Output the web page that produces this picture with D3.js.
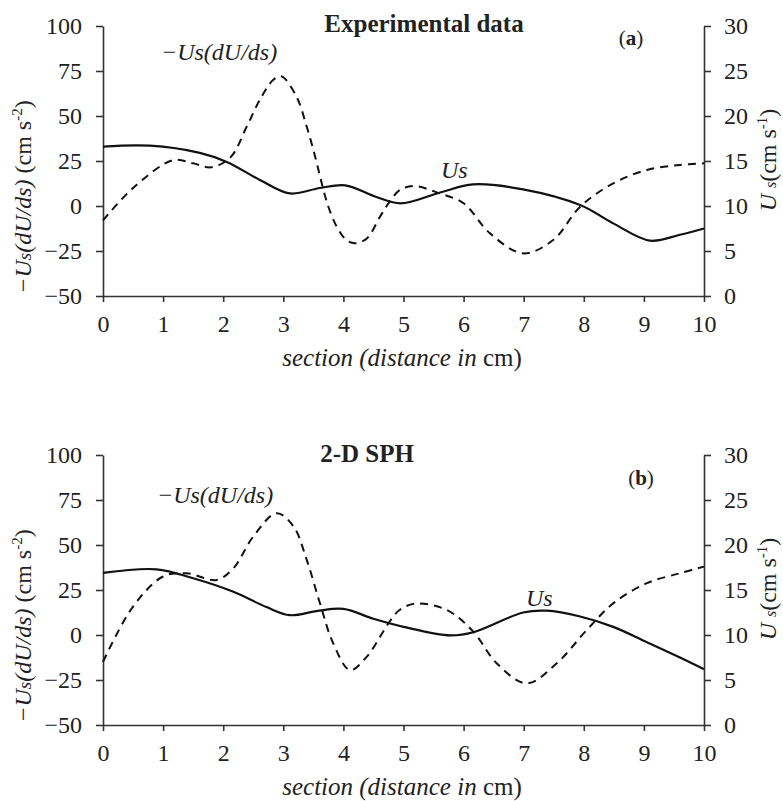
<!DOCTYPE html>
<html>
<head>
<meta charset="utf-8">
<script src="https://cdn.jsdelivr.net/npm/d3@7"></script>
<style>
  body { margin: 0; background: #fff; }
  text { font-family: "Liberation Serif", "Times New Roman", serif; fill: #222; }
</style>
</head>
<body>
<div id="chart"></div>
<script>
// ---------------------------------------------------------------
// Data
// ---------------------------------------------------------------
// (a) experimental data : -Us(dU/ds) on left axis (cm s-2)
const expGradX = [0, 0.5, 1.17, 1.5, 1.8, 2.12, 2.39, 2.61, 2.83, 2.97, 3.22, 3.39, 3.53, 3.64, 3.75, 3.89,
                  4.05, 4.19, 4.39, 4.61, 4.75, 4.94, 5.17, 5.6, 6.0, 6.44, 6.99, 7.49, 7.94, 8.49, 9.05, 9.6, 10];
const expGrad  = [-8, 10, 25.5, 23.7, 21.5, 27, 44, 59, 70, 72, 60.7, 44, 27.4, 12.6, -0.4, -11.5,
                  -18.9, -20.7, -18, -5.9, 1.5, 8.9, 11.1, 7, 1.5, -15.2, -26.3, -18.9, -0.4, 12.6, 20, 22.8, 23.7];
// (a) experimental data : Us on right axis (cm s-1)
const expUsX = [0, 0.78, 1.61, 2.06, 2.61, 3.11, 3.61, 4.03, 4.55, 4.95, 5.61, 6.16, 6.99, 7.94, 8.49, 9.1, 9.6, 10];
const expUs  = [16.6, 16.7, 15.9, 14.9, 12.9, 11.4, 12.0, 12.3, 11.0, 10.3, 11.5, 12.4, 11.85, 10.1, 8.07, 6.15, 6.8, 7.5];

// (b) 2-D SPH : -Us(dU/ds)
const sphGradX = [0, 0.5, 1.0, 1.39, 1.89, 2.17, 2.5, 2.89, 3.17, 3.39, 3.61, 3.83, 4.11, 4.39, 4.61, 4.78, 4.94,
                  5.2, 5.72, 6.16, 6.55, 7.05, 7.55, 8.05, 8.49, 9.05, 9.6, 10];
const sphGrad  = [-14.9, 15.8, 32.5, 34.3, 30.6, 37.1, 54.7, 67.7, 60.3, 41.7, 17.6, -4.6, -19.5, -12, -1, 8, 14,
                  17.5, 13.9, 1.9, -15.7, -26.9, -15.7, 2.8, 17.6, 28.8, 34.3, 38];
// (b) 2-D SPH : Us
const sphUsX = [0, 0.89, 1.5, 2.17, 2.72, 3.11, 3.55, 4.0, 4.5, 5.0, 5.78, 6.16, 6.99, 7.38, 7.94, 8.49, 9.05, 9.6, 10];
const sphUs  = [16.9, 17.3, 16.3, 14.8, 13.1, 12.2, 12.65, 12.9, 11.8, 10.9, 9.95, 10.3, 12.5, 12.7, 12.06, 10.9, 9.2, 7.5, 6.2];

// tick values
const xTicks = [0, 1, 2, 3, 4, 5, 6, 7, 8, 9, 10];
const leftTicks = [-50, -25, 0, 25, 50, 75, 100];
const rightTicks = [0, 5, 10, 15, 20, 25, 30];

// ---------------------------------------------------------------
// SVG
// ---------------------------------------------------------------
const W = 783, H = 801;
const svg = d3.select("#chart").append("svg")
  .attr("width", W)
  .attr("height", H)
  .style("background", "#fff");

const plotLeft = 103, plotRight = 704, plotH = 270;
const tickFont = "24px";

const x = d3.scaleLinear().domain([0, 10]).range([plotLeft, plotRight]);

const panels = [
  { top: 26,  title: "Experimental data", tag: "a", gx: expGradX, gy: expGrad, ux: expUsX, uy: expUs,
    titleX: 424, titleY: 6, tagX: 631, tagY: 19, gradLbl: [161, 34], usLbl: [441, 152] },
  { top: 455, title: "2-D SPH", tag: "b", gx: sphGradX, gy: sphGrad, ux: sphUsX, uy: sphUs,
    titleX: 367, titleY: 7, tagX: 641, tagY: 30, gradLbl: [157, 48], usLbl: [526, 151] }
];

panels.forEach(p => {
  const g = svg.append("g").attr("transform", `translate(0,${p.top})`);

  const yL = d3.scaleLinear().domain([-50, 100]).range([plotH, 0]);
  const yR = d3.scaleLinear().domain([0, 30]).range([plotH, 0]);

  // axes
  const xAxis = g.append("g")
    .attr("transform", `translate(0,${plotH})`)
    .call(d3.axisBottom(x).tickValues(xTicks).tickSize(6).tickPadding(13).tickSizeOuter(0));
  const lAxis = g.append("g")
    .attr("transform", `translate(${plotLeft},0)`)
    .call(d3.axisLeft(yL).tickValues(leftTicks).tickSize(7).tickPadding(14).tickSizeOuter(0));
  const rAxis = g.append("g")
    .attr("transform", `translate(${plotRight},0)`)
    .call(d3.axisRight(yR).tickValues(rightTicks).tickSize(7).tickPadding(13).tickSizeOuter(0));

  [xAxis, lAxis, rAxis].forEach(a => {
    a.select(".domain").attr("stroke", "#333").attr("stroke-width", 1.6);
    a.selectAll(".tick line").attr("stroke", "#333").attr("stroke-width", 1.6);
    a.selectAll(".tick text")
      .attr("font-size", tickFont)
      .attr("fill", "#222");
  });

  // curves
  const line = d3.line().curve(d3.curveCatmullRom.alpha(0.5));

  g.append("path")
    .datum(p.gx.map((v, i) => [x(v), yL(p.gy[i])]))
    .attr("d", line)
    .attr("fill", "none")
    .attr("stroke", "#111")
    .attr("stroke-width", 2)
    .attr("stroke-dasharray", "8,6");

  g.append("path")
    .datum(p.ux.map((v, i) => [x(v), yR(p.uy[i])]))
    .attr("d", line)
    .attr("fill", "none")
    .attr("stroke", "#111")
    .attr("stroke-width", 2.2);

  // title and panel tag
  g.append("text")
    .attr("x", p.titleX).attr("y", p.titleY)
    .attr("text-anchor", "middle")
    .attr("font-size", "25px")
    .attr("font-weight", "bold")
    .text(p.title);

  const tag = g.append("text")
    .attr("x", p.tagX).attr("y", p.tagY)
    .attr("text-anchor", "middle")
    .attr("font-size", "21px");
  tag.append("tspan").text("(");
  tag.append("tspan").attr("font-weight", "bold").text(p.tag);
  tag.append("tspan").text(")");

  // curve labels
  g.append("text")
    .attr("x", p.gradLbl[0]).attr("y", p.gradLbl[1])
    .attr("font-size", "24px")
    .attr("font-style", "italic")
    .text("\u2212Us(dU/ds)");

  g.append("text")
    .attr("x", p.usLbl[0]).attr("y", p.usLbl[1])
    .attr("font-size", "24px")
    .attr("font-style", "italic")
    .text("Us");

  // x axis title
  const xt = g.append("text")
    .attr("x", 402).attr("y", plotH + 70)
    .attr("text-anchor", "middle")
    .attr("font-size", "25px");
  xt.append("tspan").attr("font-style", "italic").text("section (distance in ");
  xt.append("tspan").text("cm)");

  // left y title
  const yl = g.append("text")
    .attr("transform", `translate(31,171) rotate(-90)`)
    .attr("text-anchor", "middle")
    .attr("font-size", "24px");
  yl.append("tspan").attr("font-style", "italic").text("\u2212U");
  yl.append("tspan").attr("font-style", "italic").attr("font-size", "19px").text("s");
  yl.append("tspan").attr("font-style", "italic").text("(dU/ds)");
  yl.append("tspan").text(" (cm s");
  yl.append("tspan").attr("font-size", "15px").attr("dy", -9).text("-2");
  yl.append("tspan").attr("dy", 9).text(")");

  // right y title
  const yr = g.append("text")
    .attr("transform", `translate(776,134) rotate(-90)`)
    .attr("text-anchor", "middle")
    .attr("font-size", "24px");
  yr.append("tspan").attr("font-style", "italic").text("U ");
  yr.append("tspan").attr("font-style", "italic").attr("font-size", "16px").text("s");
  yr.append("tspan").text("(cm s");
  yr.append("tspan").attr("font-size", "15px").attr("dy", -9).text("-1");
  yr.append("tspan").attr("dy", 9).text(")");
});
</script>
</body>
</html>
